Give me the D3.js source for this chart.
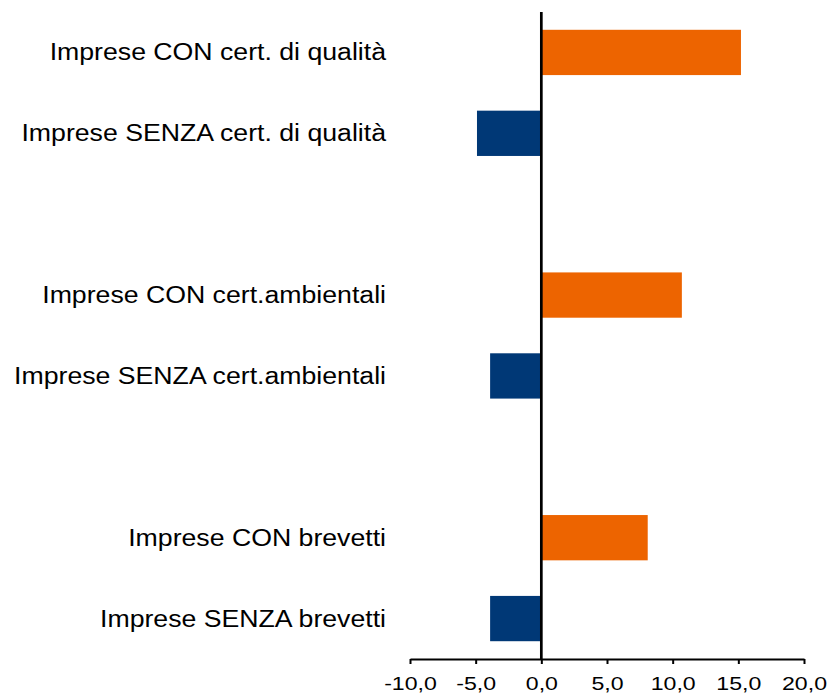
<!DOCTYPE html>
<html lang="it">
<head>
    <meta charset="UTF-8">
    <script src="https://d3js.org/d3.v7.min.js"></script>
    <style>
        body { margin: 0; background: #fff; }
        text { font-family: "Liberation Sans", Arial, sans-serif; fill: #000; }
    </style>
</head>
<body>
<div id="chart"></div>
<script>
    // categorie (dall'alto verso il basso), "" = riga vuota
    const categories = [
        "Imprese CON cert. di qualità",
        "Imprese SENZA cert. di qualità",
        "",
        "Imprese CON cert.ambientali",
        "Imprese SENZA cert.ambientali",
        "",
        "Imprese CON brevetti",
        "Imprese SENZA brevetti"
    ];
    const values = [15.2, -4.9, null, 10.7, -3.9, null, 8.1, -3.9];
    const groups = ["CON", "SENZA", null, "CON", "SENZA", null, "CON", "SENZA"];
    const xTicks = [-10, -5, 0, 5, 10, 15, 20];

    const colors = {CON: "#ED6400", SENZA: "#003876"};

    const width = 830, height = 698;
    const margin = {top: 12, right: 26, bottom: 39, left: 410};

    const svg = d3.select("#chart").append("svg")
        .attr("width", width)
        .attr("height", height);

    const x = d3.scaleLinear()
        .domain([-10, 20])
        .range([margin.left, width - margin.right]);

    const y = d3.scaleBand()
        .domain(d3.range(categories.length))
        .range([margin.top, height - margin.bottom])
        .paddingInner(0.44)
        .paddingOuter(0.22);

    const data = categories.map((c, i) => ({cat: c, value: values[i], group: groups[i], i: i}))
        .filter(d => d.value !== null);

    // barre
    svg.selectAll(".bar")
        .data(data)
        .enter().append("rect")
        .attr("class", "bar")
        .attr("x", d => x(Math.min(0, d.value)))
        .attr("width", d => Math.abs(x(d.value) - x(0)))
        .attr("y", d => y(d.i))
        .attr("height", y.bandwidth())
        .attr("fill", d => colors[d.group]);

    // etichette categorie
    svg.selectAll(".cat")
        .data(data)
        .enter().append("text")
        .attr("class", "cat")
        .attr("transform", d => "translate(386," + (y(d.i) + y.bandwidth() / 2) + ") scale(1.16,1)")
        .attr("dy", "0.35em")
        .attr("text-anchor", "end")
        .style("font-size", "23px")
        .text(d => d.cat);

    // asse x
    const axisY = height - margin.bottom;
    const xAxis = svg.append("g")
        .attr("transform", "translate(0," + axisY + ")")
        .call(d3.axisBottom(x).tickValues(xTicks).tickSize(5).tickSizeOuter(0)
            .tickFormat(d => d.toFixed(1).replace(".", ",")));
    xAxis.select(".domain").attr("stroke", "#000").attr("stroke-width", 2);
    xAxis.selectAll(".tick line").attr("stroke", "#000").attr("stroke-width", 2);
    xAxis.selectAll(".tick text")
        .attr("y", 0)
        .attr("dy", 0)
        .attr("transform", "translate(0,31) scale(1.25,1)")
        .style("font-size", "18.5px");

    // linea dello zero
    svg.append("line")
        .attr("x1", x(0)).attr("x2", x(0))
        .attr("y1", margin.top).attr("y2", axisY)
        .attr("stroke", "#000")
        .attr("stroke-width", 2.7);
</script>
</body>
</html>
